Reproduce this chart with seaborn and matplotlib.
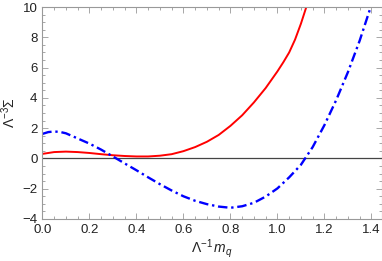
import numpy as np
import pandas as pd
import matplotlib
matplotlib.use("Agg")
import matplotlib.pyplot as plt
import seaborn as sns

# values
red_x = [0.0, 0.05, 0.1, 0.15, 0.2, 0.25, 0.3, 0.35, 0.4, 0.45, 0.5, 0.55, 0.6,
         0.65, 0.7, 0.75, 0.8, 0.85, 0.9, 0.95, 1.0, 1.025, 1.05, 1.075, 1.1, 1.125]
red_y = [0.30, 0.42, 0.45, 0.42, 0.36, 0.28, 0.21, 0.16, 0.13, 0.13, 0.18, 0.28, 0.48,
         0.75, 1.10, 1.55, 2.15, 2.85, 3.70, 4.65, 5.75, 6.35, 7.0, 7.85, 8.9, 10.1]

blue_x = [0.0, 0.025, 0.05, 0.075, 0.1, 0.15, 0.2, 0.25, 0.3, 0.35, 0.4, 0.45, 0.5, 0.55, 0.6, 0.65,
          0.7, 0.75, 0.8, 0.85, 0.9, 0.95, 1.0, 1.05, 1.1, 1.15, 1.2, 1.25, 1.3, 1.35, 1.4]
blue_y = [1.62, 1.74, 1.78, 1.75, 1.66, 1.32, 0.98, 0.58, 0.13, -0.33, -0.78, -1.25, -1.70, -2.12,
          -2.50, -2.80, -3.02, -3.18, -3.26, -3.16, -2.93, -2.52, -1.98, -1.25, -0.42, 0.75, 2.2,
          3.85, 5.7, 7.78, 10.15]

sns.set_style("ticks")
plt.rcParams["font.family"] = ["Liberation Sans", "DejaVu Sans"]
plt.rcParams["mathtext.fontset"] = "custom"
plt.rcParams["mathtext.rm"] = "Liberation Sans"
plt.rcParams["mathtext.it"] = "Liberation Sans:italic"

red = pd.DataFrame({"x": red_x, "y": red_y})
blue = pd.DataFrame({"x": blue_x, "y": blue_y})

fig = plt.figure(figsize=(3.82, 2.61), dpi=100)
ax = fig.add_axes([0.111, 0.161, 0.889, 0.812])

ax.axhline(0, color="#444444", lw=0.9, zorder=1)
sns.lineplot(data=red, x="x", y="y", ax=ax, color="red", lw=1.4, sort=False)
sns.lineplot(data=blue, x="x", y="y", ax=ax, color="blue", lw=1.7, sort=False,
             linestyle=(0, (4, 1.6, 1, 1.6)))

ax.set_xlim(0, 1.445)
ax.set_ylim(-4, 10)
ax.set_xticks(np.arange(0, 1.41, 0.2))
ax.set_xticks(np.arange(0, 1.45, 0.05), minor=True)
ax.set_yticks(np.arange(-4, 10.1, 2))
ax.set_yticks(np.arange(-4, 10.1, 0.5), minor=True)
ax.xaxis.set_major_formatter(matplotlib.ticker.FormatStrFormatter("%.1f"))
ax.yaxis.set_major_formatter(matplotlib.ticker.FuncFormatter(lambda v, p: f"{int(v)}".replace("-", "\u2212")))

ax.tick_params(which="both", direction="in", top=True, right=True, colors="#999999",
               labelcolor="#222222", labelsize=9.5, width=0.6)
ax.tick_params(which="major", length=4)
ax.tick_params(which="minor", length=2)
for s in ax.spines.values():
    s.set_color("#999999")
    s.set_linewidth(0.8)

ax.set_xlabel(r"$\Lambda^{-1}\,m_q$", fontsize=10, color="#222222", labelpad=1)
ax.set_ylabel(r"$\Lambda^{-3}\Sigma$", fontsize=10, color="#222222", labelpad=3)

fig.savefig("out.png", dpi=100)
